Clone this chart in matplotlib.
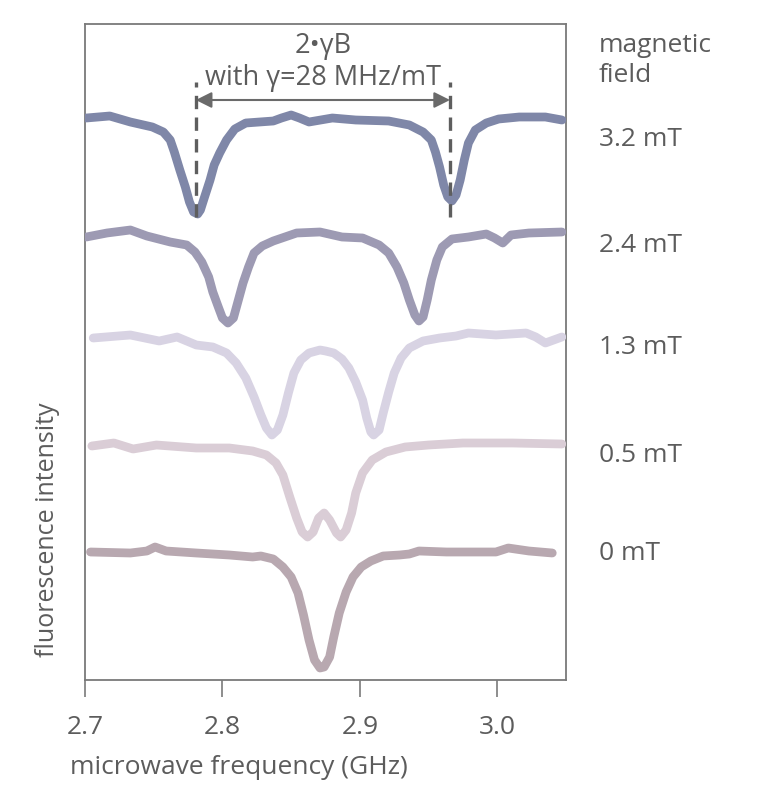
import matplotlib
matplotlib.use("Agg")
import matplotlib.pyplot as plt

plt.rcParams['font.family'] = ['Open Sans', 'DejaVu Sans']

TEXT = '#5c5c5c'
SPINE = '#7a7a7a'

# ── ODMR spectra (GHz, arbitrary fluorescence units) ─────────────────────────
f_32 = [2.701, 2.718, 2.733, 2.749, 2.757, 2.762, 2.765, 2.769, 2.773, 2.776,
        2.779, 2.782, 2.784, 2.787, 2.791, 2.794, 2.798, 2.803, 2.809, 2.817,
        2.837, 2.843, 2.850, 2.856, 2.863, 2.880, 2.897, 2.921, 2.936, 2.946,
        2.952, 2.955, 2.958, 2.961, 2.964, 2.967, 2.970, 2.973, 2.976, 2.979,
        2.984, 2.992, 3.001, 3.016, 3.035, 3.047]
i_32 = [562, 564, 558, 553, 548, 540, 528, 510, 493, 478,
        468, 466, 470, 483, 500, 515, 527, 540, 551, 557,
        559, 562, 565, 562, 558, 562, 560, 559, 555, 548,
        540, 528, 513, 495, 483, 479, 485, 500, 520, 537,
        550, 557, 561, 563, 563, 560]

f_24 = [2.701, 2.716, 2.733, 2.745, 2.762, 2.774, 2.780, 2.785, 2.790, 2.793,
        2.797, 2.800, 2.804, 2.808, 2.811, 2.815, 2.819, 2.823, 2.829, 2.837,
        2.854, 2.871, 2.887, 2.902, 2.914, 2.921, 2.927, 2.932, 2.936, 2.940,
        2.943, 2.946, 2.949, 2.952, 2.956, 2.960, 2.967, 2.979, 2.992, 2.998,
        3.004, 3.010, 3.023, 3.047]
i_24 = [443, 447, 450, 444, 438, 435, 428, 418, 403, 388,
        373, 362, 357, 362, 377, 397, 413, 427, 434, 439,
        447, 448, 443, 442, 435, 427, 413, 397, 380, 365,
        359, 363, 380, 400, 420, 433, 441, 443, 446, 442,
        437, 445, 447, 448]

f_13 = [2.706, 2.733, 2.754, 2.767, 2.781, 2.793, 2.803, 2.810, 2.817, 2.823,
        2.828, 2.832, 2.836, 2.840, 2.844, 2.848, 2.852, 2.857, 2.863, 2.871,
        2.875, 2.881, 2.887, 2.892, 2.897, 2.902, 2.905, 2.908, 2.910, 2.914,
        2.917, 2.921, 2.925, 2.930, 2.936, 2.946, 2.958, 2.970, 2.979, 2.999,
        3.021, 3.028, 3.035, 3.047]
i_13 = [342, 345, 339, 343, 335, 333, 327, 317, 302, 283,
        265, 252, 245, 250, 265, 287, 307, 320, 327, 330,
        329, 327, 321, 312, 298, 280, 262, 248, 245, 250,
        267, 288, 307, 322, 332, 339, 342, 344, 347, 345,
        347, 343, 337, 343]

f_05 = [2.705, 2.721, 2.735, 2.752, 2.781, 2.805, 2.822, 2.832, 2.839, 2.844,
        2.849, 2.854, 2.858, 2.862, 2.866, 2.870, 2.874, 2.878, 2.883, 2.886,
        2.890, 2.894, 2.897, 2.902, 2.909, 2.919, 2.933, 2.950, 2.975, 3.011,
        3.047]
i_05 = [234, 237, 231, 235, 232, 232, 229, 225, 217, 205,
        183, 162, 148, 143, 148, 162, 167, 160, 147, 143,
        150, 167, 187, 207, 220, 228, 233, 235, 237, 237,
        236]

f_00 = [2.704, 2.733, 2.745, 2.751, 2.759, 2.781, 2.805, 2.822, 2.828, 2.837,
        2.844, 2.850, 2.855, 2.859, 2.863, 2.867, 2.871, 2.874, 2.878, 2.881,
        2.885, 2.890, 2.895, 2.901, 2.908, 2.917, 2.929, 2.936, 2.943, 2.963,
        2.999, 3.008, 3.023, 3.040]
i_00 = [128, 127, 129, 133, 129, 127, 125, 123, 124, 121,
        113, 103, 87, 65, 40, 20, 12, 13, 23, 43,
        67, 88, 103, 113, 119, 124, 125, 126, 129, 128,
        128, 132, 129, 127]

fields = ["3.2 mT", "2.4 mT", "1.3 mT", "0.5 mT", "0 mT"]
field_label_y = [540, 435, 333, 224, 127]
colors = ['#7f87a8', '#9d9ab3', '#d8d3e3', '#dacdd6', '#b8a8b0']

# splitting 2*gamma*B marked on the 3.2 mT trace
split_lo, split_hi = 2.7806, 2.9656

xticks = [2.7, 2.8, 2.9, 3.0]
xticklabels = ["2.7", "2.8", "2.9", "3.0"]

fig = plt.figure(figsize=(7.62, 7.85), dpi=100)
ax = fig.add_axes([85 / 762, 105 / 785, (566 - 85) / 762, (680 - 24) / 785])

traces = [(f_32, i_32), (f_24, i_24), (f_13, i_13), (f_05, i_05), (f_00, i_00)]
for (f, i), c in zip(traces, colors):
    ax.plot(f, i, color=c, lw=6.3, solid_joinstyle='round',
            solid_capstyle='round', zorder=3)

# splitting annotation
for xv in (split_lo, split_hi):
    ax.plot([xv, xv], [463, 598], color='#5e5e5e', lw=2.4,
            dashes=(4, 2.5), zorder=4)
ax.annotate('', xy=(split_lo, 580), xytext=(split_hi, 580),
            arrowprops=dict(arrowstyle='<|-|>', color='#6a6a6a', lw=1.5,
                            mutation_scale=24, shrinkA=0, shrinkB=0))
ax.text((split_lo + split_hi) / 2, 634, "2\u2022\u03b3B", ha='center',
        va='center', fontsize=19.5, color=TEXT)
ax.text((split_lo + split_hi) / 2, 602, "with \u03b3=28 MHz/mT", ha='center',
        va='center', fontsize=19.5, color=TEXT)

# field labels on the right
ax.text(3.074, 634, "magnetic", ha='left', va='center', fontsize=19,
        color=TEXT, clip_on=False)
ax.text(3.074, 604, "field", ha='left', va='center', fontsize=19,
        color=TEXT, clip_on=False)
for lab, yv in zip(fields, field_label_y):
    ax.text(3.074, yv, lab, ha='left', va='center', fontsize=19,
            color=TEXT, clip_on=False)

ax.set_xlim(2.7, 3.05)
ax.set_ylim(0, 656)
ax.set_xticks(xticks)
ax.set_xticklabels(xticklabels, fontsize=19, color=TEXT)
ax.set_yticks([])
ax.tick_params(axis='x', direction='out', length=12.5, width=1.2,
               color=SPINE, pad=13)
for s in ax.spines.values():
    s.set_color(SPINE)
    s.set_linewidth(1.3)

fig.text(70 / 762, 1 - 768 / 785, "microwave frequency (GHz)", ha='left',
         va='center', fontsize=19, color=TEXT)
fig.text(48 / 762, 1 - 530 / 785, "fluorescence intensity", ha='center',
         va='center', rotation=90, fontsize=18, color=TEXT)

fig.savefig("out.png", dpi=100)
